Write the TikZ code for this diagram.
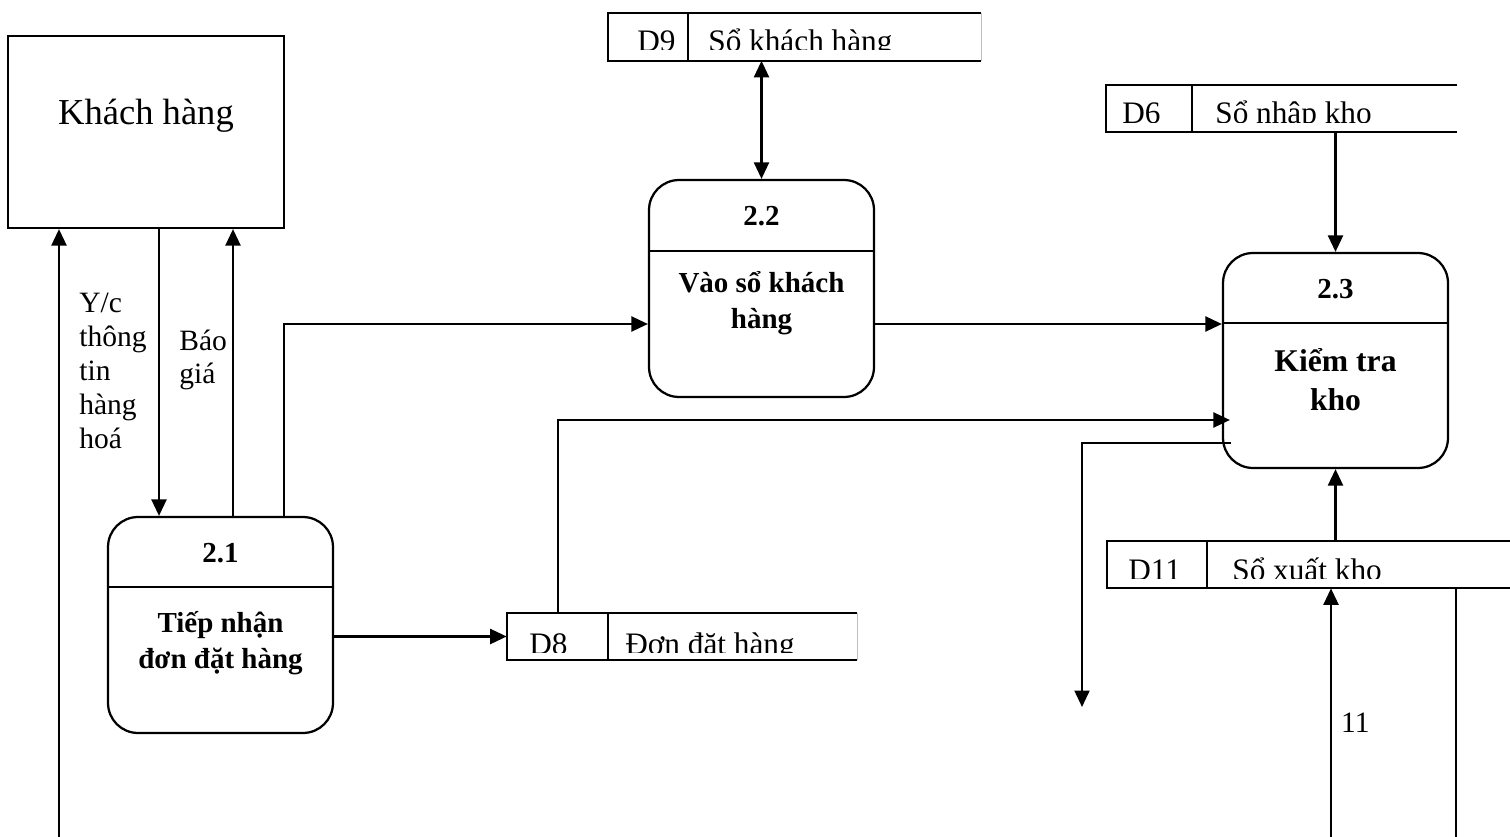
\documentclass[tikz,border=0pt]{standalone}
\usepackage{fontspec}
\setmainfont{Liberation Serif}
\usetikzlibrary{arrows.meta,calc}

\tikzset{
  proc/.style={draw, line width=0.045cm, rounded corners=0.6cm, minimum width=4.5cm, inner sep=0pt},
  store/.style={minimum height=0.94cm, inner sep=0pt},
  edge/.style={line width=0.045cm},
  arr/.style={line width=0.045cm, -{Triangle[length=0.33cm,width=0.3cm]}},
  arrboth/.style={line width=0.045cm, {Triangle[length=0.33cm,width=0.3cm]}-{Triangle[length=0.33cm,width=0.3cm]}},
  ptitle/.style={font=\fontsize{16.5}{20}\selectfont\bfseries, inner sep=0pt, anchor=base},
  pname/.style={font=\fontsize{16.5}{20.5}\selectfont\bfseries, align=center, inner sep=0pt, anchor=base},
  lbl/.style={font=\fontsize{16.8}{19.3}\selectfont, align=left, inner sep=0pt},
  stxt/.style={font=\fontsize{17.8}{21}\selectfont, inner sep=0pt, anchor=base west}
}

\begin{document}
\begin{tikzpicture}[x=0.02cm, y=-0.02cm]
    \useasboundingbox (0,0) rectangle (1510,837);

    % External entity
    \node[draw, line width=0.045cm, minimum width=5.52cm, minimum height=3.84cm, inner sep=0pt,
          font=\fontsize{20.8}{24}\selectfont, text height=0.5cm, text depth=0.78cm] (khach) at (146,132) {Khách hàng};

    % Process 2.1
    \node[proc, minimum height=4.32cm] (p21) at (220.5,625) {};
    \draw[edge] ($(p21.north west)+(0,71)$) -- ($(p21.north east)+(0,71)$);
    \node[ptitle] (p21n) at ($(p21.north)+(0,47)$) {2.1};
    \node[pname] (p21t) at ($(p21.north)+(0,153)$) {Tiếp nhận\\đơn đặt hàng};

    % Process 2.2
    \node[proc, minimum height=4.34cm] (p22) at (761.5,288.5) {};
    \draw[edge] ($(p22.north west)+(0,72)$) -- ($(p22.north east)+(0,72)$);
    \node[ptitle] (p22n) at ($(p22.north)+(0,47)$) {2.2};
    \node[pname] (p22t) at ($(p22.north)+(0,150)$) {Vào sổ khách\\hàng};

    % Process 2.3
    \node[proc, minimum height=4.3cm] (p23) at (1335.5,360.5) {};
    \draw[edge] ($(p23.north west)+(0,71)$) -- ($(p23.north east)+(0,71)$);
    \node[ptitle] (p23n) at ($(p23.north)+(0,47)$) {2.3};
    \node[pname, font=\fontsize{18}{22.2}\selectfont\bfseries] (p23t) at ($(p23.north)+(0,159)$) {Kiểm tra\\kho};

    % Data store D9
    \node[store, minimum width=7.46cm] (d9) at (794.5,37) {};
    \draw[edge] (d9.north east) -- (d9.north west) -- (d9.south west) -- (d9.south east);
    \draw[edge] (d9.north -| 688,0) -- (d9.south -| 688,0);
    \draw[gray!50, thin] (d9.north east) -- (d9.south east);
    \begin{scope}
        \clip (d9.north west) rectangle ($(d9.south east)+(0,-11)$);
        \node[stxt] (d9id) at (637,52) {D9};
        \node[stxt] (d9txt) at (708,52) {Sổ khách hàng};
    \end{scope}

    % Data store D6
    \node[store, minimum width=7.02cm] (d6) at (1281.5,108.5) {};
    \draw[edge] (d6.north east) -- (d6.north west) -- (d6.south west) -- (d6.south east);
    \draw[edge] (d6.north -| 1192,0) -- (d6.south -| 1192,0);
    \begin{scope}
        \clip (d6.north west) rectangle ($(d6.south east)+(0,-10)$);
        \node[stxt] (d6id) at (1122,124) {D6};
        \node[stxt] (d6txt) at (1215,124) {Sổ nhập kho};
    \end{scope}

    % Data store D8
    \node[store, minimum width=7cm] (d8) at (682,636.5) {};
    \draw[edge] (d8.north east) -- (d8.north west) -- (d8.south west) -- (d8.south east);
    \draw[edge] (d8.north -| 608,0) -- (d8.south -| 608,0);
    \draw[gray!50, thin] (d8.north east) -- (d8.south east);
    \begin{scope}
        \clip (d8.north west) rectangle ($(d8.south east)+(0,-8)$);
        \node[stxt] (d8id) at (529,654) {D8};
        \node[stxt] (d8txt) at (625,654) {Đơn đặt hàng};
    \end{scope}

    % Data store D11
    \node[store, minimum width=8.06cm] (d11) at (1308.5,564.5) {};
    \draw[edge] (d11.north east) -- (d11.north west) -- (d11.south west) -- (d11.south east);
    \draw[edge] (d11.north -| 1207,0) -- (d11.south -| 1207,0);
    \begin{scope}
        \clip (d11.north west) rectangle ($(d11.south east)+(0,-10)$);
        \node[stxt] (d11id) at (1128,580) {D11};
        \node[stxt] (d11txt) at (1232,580) {Sổ xuất kho};
    \end{scope}

    % Flows around the customer
    \coordinate (kin) at (59,837);
    \draw[arr] (kin) -- (kin |- khach.south);
    \draw[arr] (khach.south -| 159,0) -- (p21.north -| 159,0);
    \draw[arr] (p21.north -| 233,0) -- (khach.south -| 233,0);
    \node[lbl, anchor=base west] (yc) at (79,448) {Y/c\\thông\\tin\\hàng\\hoá};
    \node[lbl, anchor=base west] (bg) at (179,384) {Báo\\giá};

    % Flows between processes and stores
    \draw[arr] (p21.north -| 284,0) |- (p22.west |- 0,324);
    \draw[arr] (p22.east |- 0,324) -- (p23.west |- 0,324);
    \draw[arrboth] (d9.south -| p22.north) -- (p22.north);
    \draw[arr] (d6.south -| p23.north) -- (p23.north);
    \draw[arr] (p21.east |- d8.west) -- (d8.west);
    \draw[arr, shorten >=-0.16cm] (d8.north -| 558,0) |- (p23.west |- 0,420);
    \coordinate (out) at (1082,707);
    \draw[arr] (p23.west |- 0,443) ++(9,0) -| (out);
    \draw[arr] (d11.north -| p23.south) -- (p23.south);

    % Flows below D11
    \coordinate (xin) at (1331,837);
    \draw[arr] (xin) -- node[lbl, right=0.18cm, pos=0.46] (n11) {11} (xin |- d11.south);
    \coordinate (xout) at (1456,837);
    \draw[edge] (d11.south -| xout) -- (xout);

\end{tikzpicture}
\end{document}
